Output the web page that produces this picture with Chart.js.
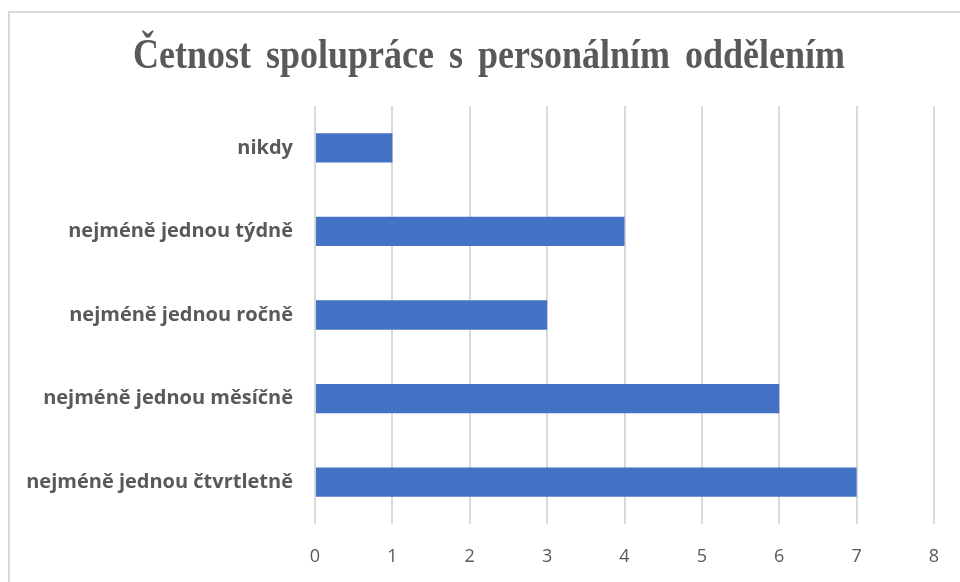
<!DOCTYPE html>
<html>
<head>
<meta charset="utf-8">
<script src="https://cdn.jsdelivr.net/npm/chart.js@4"></script>
<style>
  html, body { margin: 0; padding: 0; background: #fff; overflow: hidden; }
  .frame {
    position: absolute; left: 8px; top: 11px;
    width: 962px; height: 590px;
    border: 2px solid #d9d9d9; box-sizing: border-box;
  }
  canvas { display: block; }
</style>
</head>
<body>
<div class="frame"><canvas id="chart"></canvas></div>
<script>
const chartTitle = 'Četnost spolupráce s personálním oddělením';
const categories = [
  'nikdy',
  'nejméně jednou týdně',
  'nejméně jednou ročně',
  'nejméně jednou měsíčně',
  'nejméně jednou čtvrtletně'
];
const counts = [1, 4, 3, 6, 7];
const axisMax = 8;

const gridColor = '#d9d9d9';
const textColor = '#595959';

// title centred on the whole canvas, a little taller than the plain font
const tallTitle = {
  id: 'tallTitle',
  afterDraw(chart) {
    const ctx = chart.ctx;
    ctx.save();
    ctx.font = 'bold 36px "Liberation Serif", "Times New Roman", serif';
    ctx.wordSpacing = '6px';
    ctx.fillStyle = textColor;
    ctx.textAlign = 'center';
    ctx.textBaseline = 'alphabetic';
    ctx.translate(chart.width / 2, 55);
    ctx.scale(1, 1.15);
    ctx.fillText(chartTitle, 0, 0);
    ctx.restore();
  }
};

new Chart(document.getElementById('chart'), {
  type: 'bar',
  data: {
    labels: categories,
    datasets: [{
      data: counts,
      backgroundColor: '#4472c4',
      categoryPercentage: 1,
      barPercentage: 0.35
    }]
  },
  options: {
    indexAxis: 'y',
    responsive: true,
    maintainAspectRatio: false,
    animation: false,
    layout: { padding: { top: 93, right: 34, bottom: 0, left: 0 } },
    plugins: {
      legend: { display: false },
      tooltip: { enabled: false },
      title: { display: false }
    },
    scales: {
      x: {
        min: 0,
        max: axisMax,
        ticks: {
          stepSize: 1,
          color: textColor,
          padding: 22,
          font: { family: '"Open Sans", sans-serif', size: 18 }
        },
        grid: { color: gridColor, lineWidth: 2, drawTicks: false },
        border: { display: false },
        afterFit: (axis) => { axis.height = 75; }
      },
      y: {
        ticks: {
          color: textColor,
          padding: 22,
          font: { family: '"Open Sans", sans-serif', size: 20, weight: 'bold' }
        },
        grid: { display: false, drawTicks: false },
        border: { display: false },
        afterFit: (axis) => { axis.width = 305; }
      }
    }
  },
  plugins: [tallTitle]
});
</script>
</body>
</html>
